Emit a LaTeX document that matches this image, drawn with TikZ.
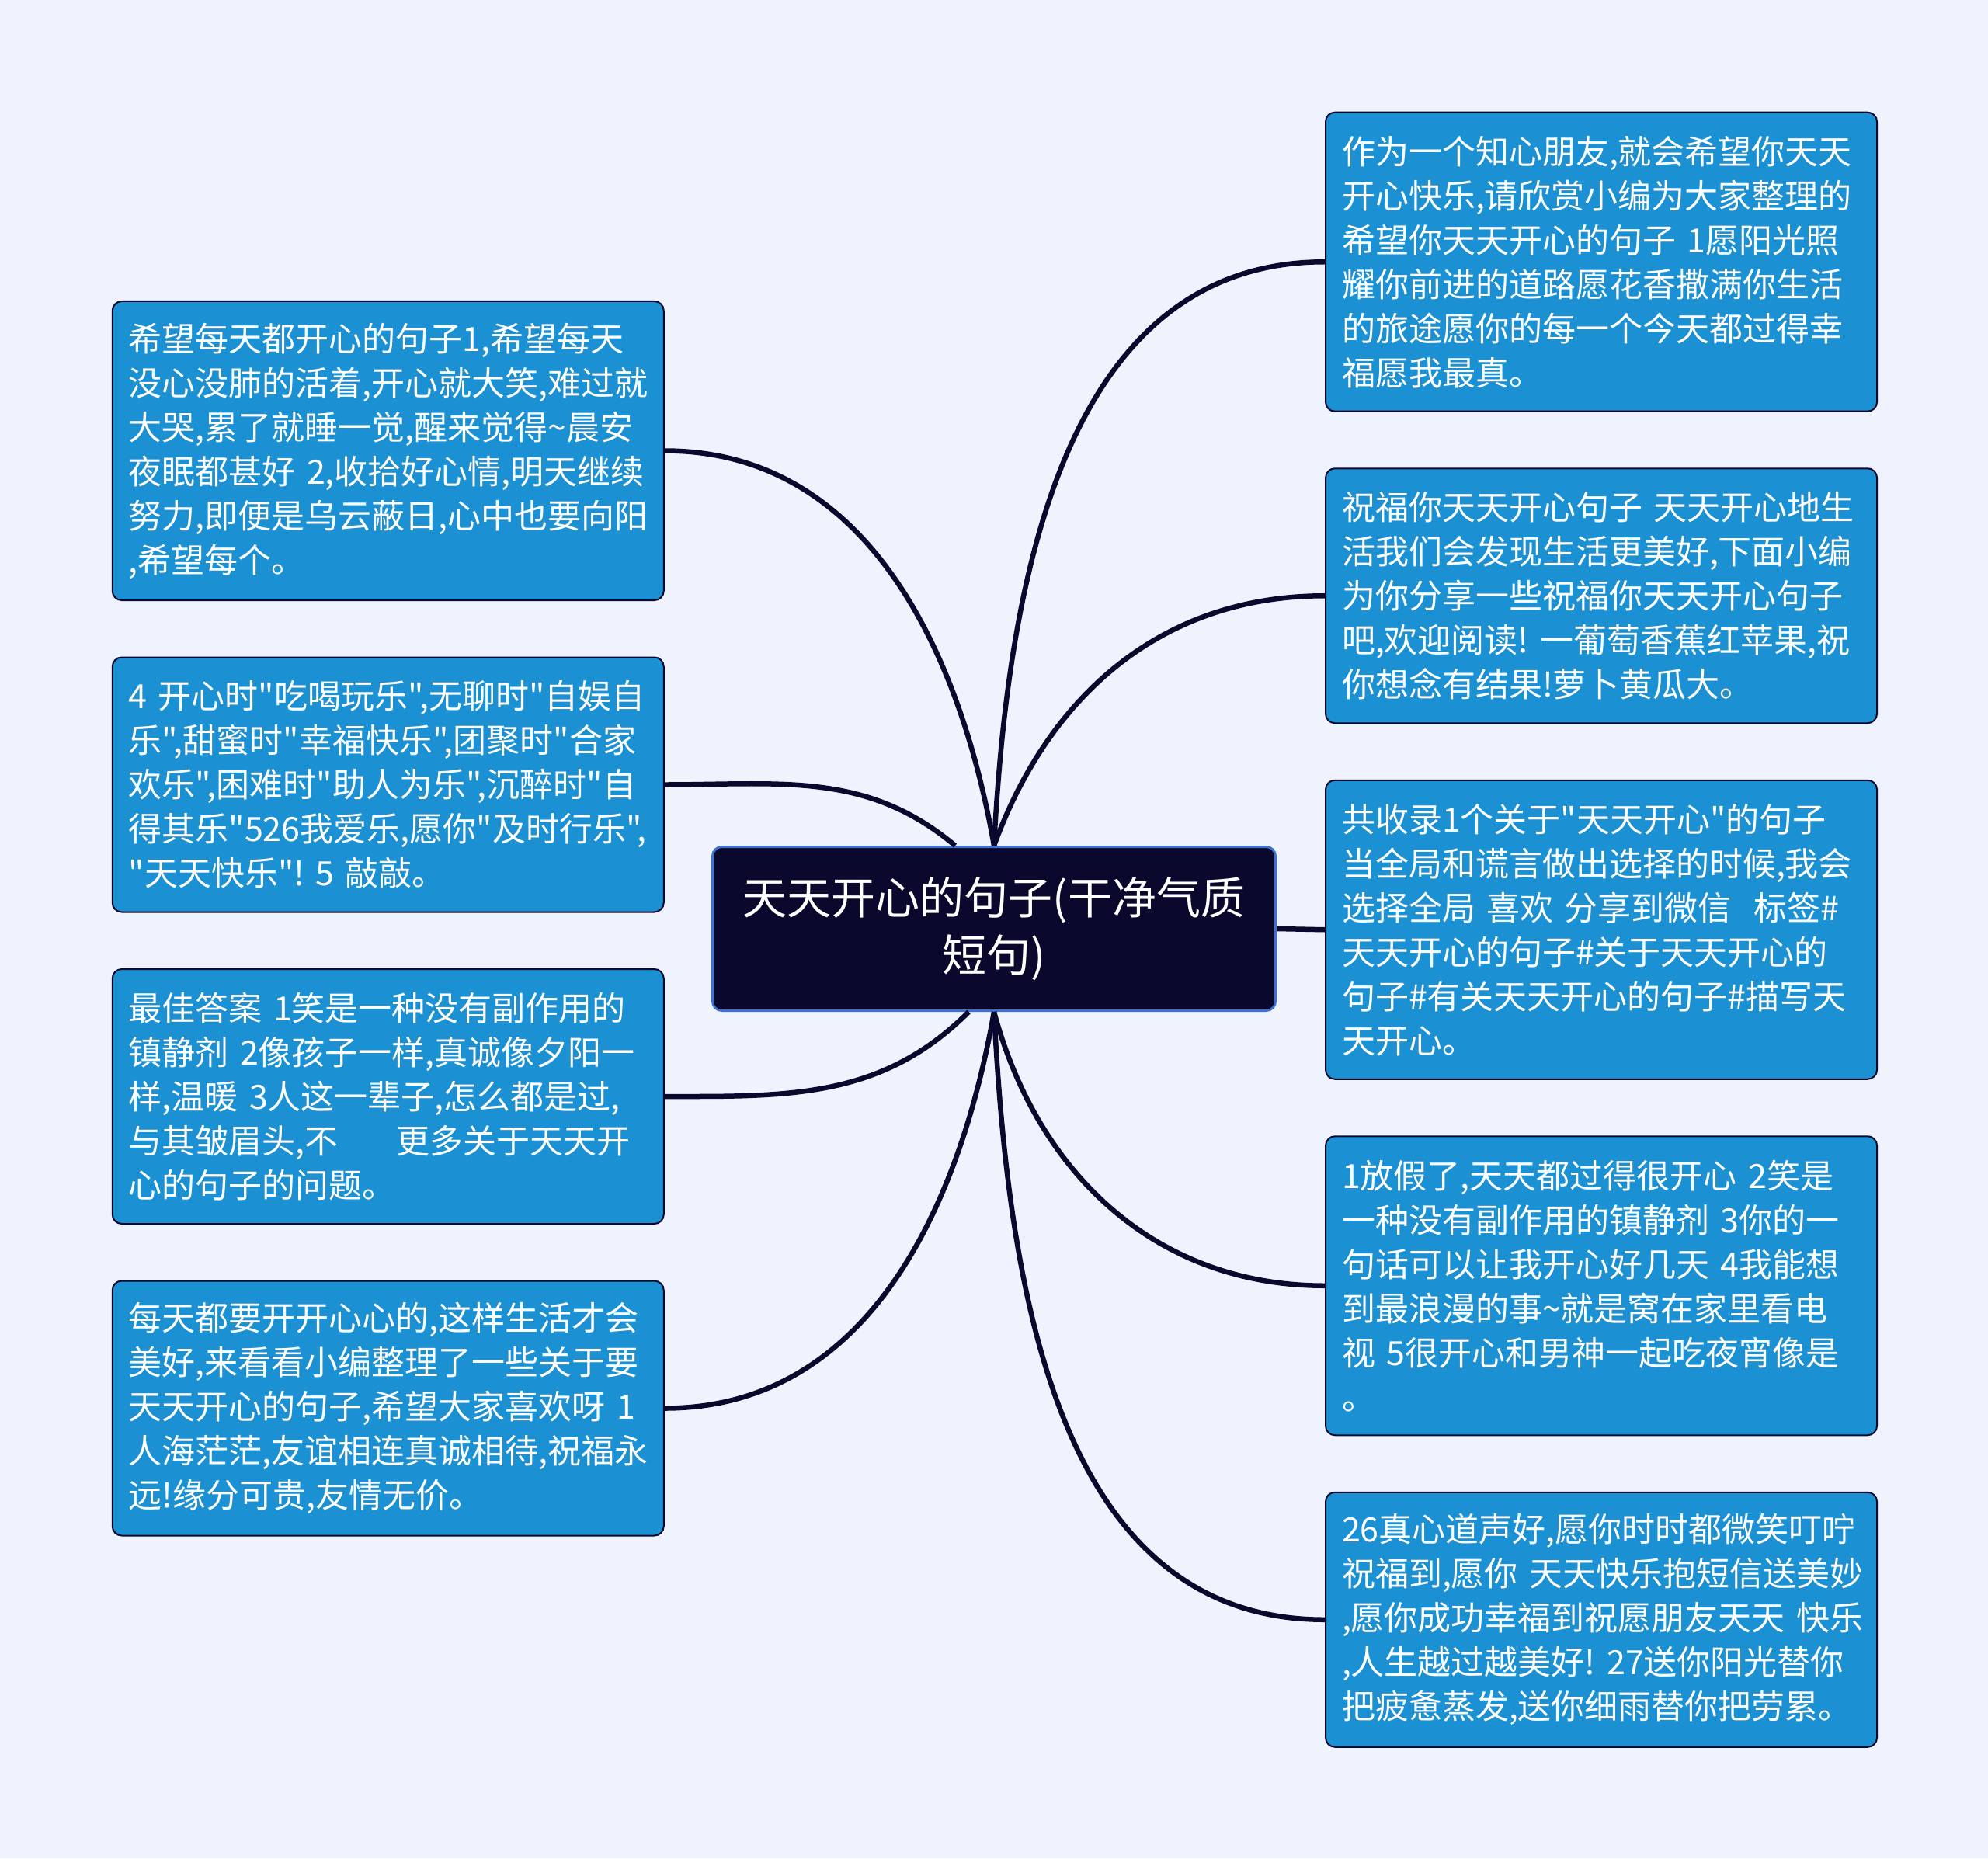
\documentclass[tikz,border=0pt]{standalone}
\usepackage{fontspec}
\newfontfamily\cjk{Noto Sans CJK SC}
\usepackage{xcolor}
\usepackage{tikz}
\usetikzlibrary{positioning}

\definecolor{bgblue}{RGB}{238,243,253}
\definecolor{leafblue}{RGB}{27,144,210}
\definecolor{inkblue}{RGB}{11,8,46}
\definecolor{rimblue}{RGB}{62,112,208}

\begin{document}
\begin{tikzpicture}[
  node distance=28.6pt,
  topic/.style={draw=rimblue, line width=1.2pt, fill=inkblue, rounded corners=4.8pt, minimum width=290pt, minimum height=84.4pt, align=center, text=white, font=\cjk\fontsize{22.8pt}{29.4pt}\selectfont},
  leaf/.style={draw=inkblue, line width=0.8pt, fill=leafblue, rounded corners=4.8pt, text width=267.2pt, minimum height=131.2pt, inner xsep=8.4pt, inner ysep=6pt, align=left, text=white, font=\cjk\fontsize{17.2pt}{22.8pt}\selectfont},
  tall/.style={minimum height=154pt},
  link/.style={draw=inkblue, line width=2.6pt}
]
\fill[bgblue] (0,0) rectangle (1024pt,-957.2pt);
\useasboundingbox (0,0) rectangle (1024pt,-957.2pt);

\node[topic] (root) at (512pt,-478.4pt) {天天开心的句子(干净气质\\短句)};

% left side
\node[leaf, tall, anchor=north west] (l1) at (57.5pt,-154.8pt) {希望每天都开心的句子1,希望每天\\没心没肺的活着,开心就大笑,难过就\\大哭,累了就睡一觉,醒来觉得\textasciitilde 晨安\\夜眠都甚好~2,收拾好心情,明天继续\\努力,即便是乌云蔽日,心中也要向阳\\,希望每个。};
\node[leaf, below=of l1] (l2) {4~开心时"吃喝玩乐",无聊时"自娱自\\乐",甜蜜时"幸福快乐",团聚时"合家\\欢乐",困难时"助人为乐",沉醉时"自\\得其乐"526我爱乐,愿你"及时行乐",\\"天天快乐"!~5~敲敲。};
\node[leaf, below=of l2] (l3) {最佳答案~1笑是一种没有副作用的\\镇静剂~2像孩子一样,真诚像夕阳一\\样,温暖~3人这一辈子,怎么都是过,\\与其皱眉头,不\hspace{1.4em}~更多关于天天开\\心的句子的问题。};
\node[leaf, below=of l3] (l4) {每天都要开开心心的,这样生活才会\\美好,来看看小编整理了一些关于要\\天天开心的句子,希望大家喜欢呀~1\\人海茫茫,友谊相连真诚相待,祝福永\\远!缘分可贵,友情无价。};

% right side
\node[leaf, tall, anchor=north west] (r1) at (682.4pt,-57.5pt) {作为一个知心朋友,就会希望你天天\\开心快乐,请欣赏小编为大家整理的\\希望你天天开心的句子~1愿阳光照\\耀你前进的道路愿花香撒满你生活\\的旅途愿你的每一个今天都过得幸\\福愿我最真。};
\node[leaf, below=of r1] (r2) {祝福你天天开心句子~天天开心地生\\活我们会发现生活更美好,下面小编\\为你分享一些祝福你天天开心句子\\吧,欢迎阅读!~一葡萄香蕉红苹果,祝\\你想念有结果!萝卜黄瓜大。};
\node[leaf, tall, below=of r2] (r3) {共收录1个关于"天天开心"的句子\\当全局和谎言做出选择的时候,我会\\选择全局~喜欢~分享到微信~~标签\#\\天天开心的句子\#关于天天开心的\\句子\#有关天天开心的句子\#描写天\\天开心。};
\node[leaf, tall, below=of r3] (r4) {1放假了,天天都过得很开心~2笑是\\一种没有副作用的镇静剂~3你的一\\句话可以让我开心好几天~4我能想\\到最浪漫的事\textasciitilde 就是窝在家里看电\\视~5很开心和男神一起吃夜宵像是\\。};
\node[leaf, below=of r4] (r5) {26真心道声好,愿你时时都微笑叮咛\\祝福到,愿你~天天快乐抱短信送美妙\\,愿你成功幸福到祝愿朋友天天~快乐\\,人生越过越美好!~27送你阳光替你\\把疲惫蒸发,送你细雨替你把劳累。};

% branches
\draw[link] (root.north) to[out=100, in=0] (l1.east);
\draw[link] ([xshift=-20pt]root.north) to[out=140, in=0] (l2.east);
\draw[link] ([xshift=-13pt]root.south) to[out=-135, in=0] (l3.east);
\draw[link] (root.south) to[out=-100, in=0] (l4.east);
\draw[link] (root.north) to[out=87, in=180] (r1.west);
\draw[link] (root.north) to[out=70, in=180] (r2.west);
\draw[link] (root.east) -- (r3.west);
\draw[link] (root.south) to[out=-75, in=180] (r4.west);
\draw[link] (root.south) to[out=-87, in=180] (r5.west);
\end{tikzpicture}
\end{document}
